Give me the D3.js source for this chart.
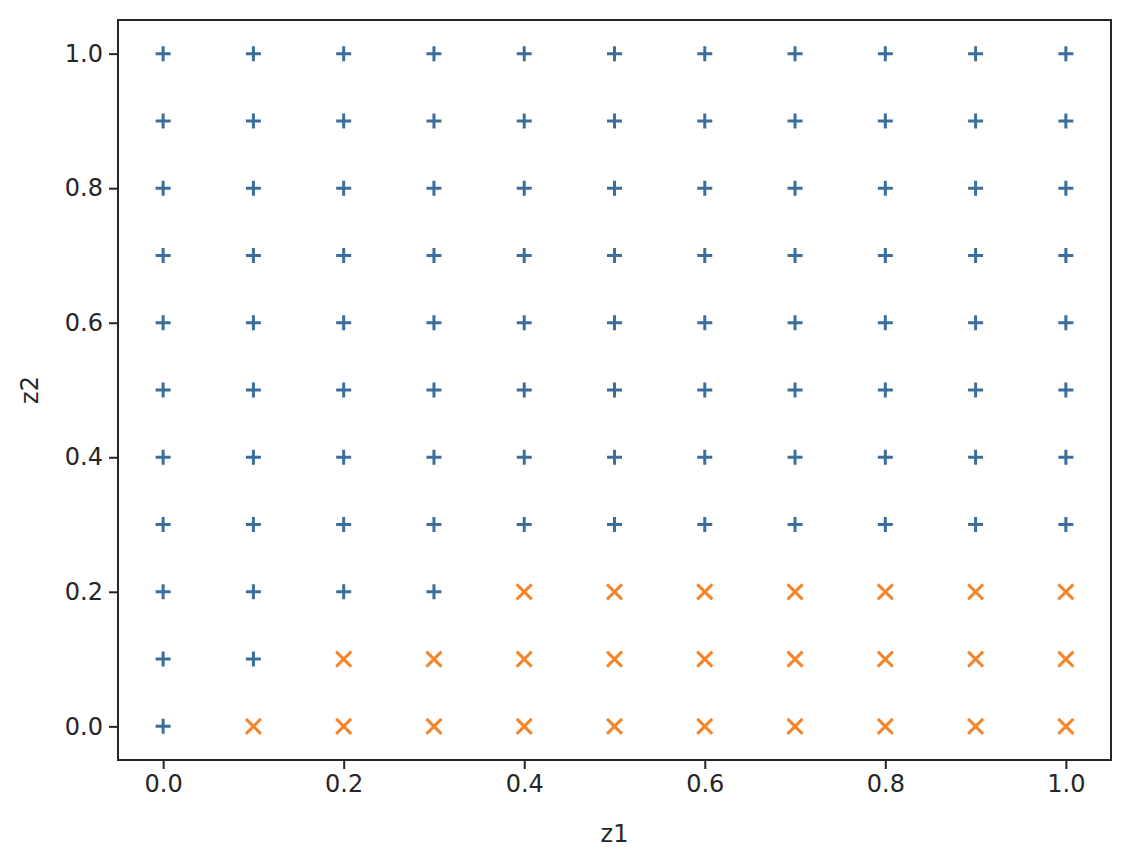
<!DOCTYPE html>
<html>
<head>
<meta charset="utf-8">
<script src="https://cdn.jsdelivr.net/npm/d3@7"></script>
<style>
  body { margin: 0; background: #fff; }
  text { font-family: "DejaVu Sans", sans-serif; fill: #262626; }
</style>
</head>
<body>
<script>
// grid values along each axis
var z1Values = [0.0, 0.1, 0.2, 0.3, 0.4, 0.5, 0.6, 0.7, 0.8, 0.9, 1.0];
var z2Values = [0.0, 0.1, 0.2, 0.3, 0.4, 0.5, 0.6, 0.7, 0.8, 0.9, 1.0];

// class of each grid point, one row per z2 value (bottom row first)
var classRows = [
  "+xxxxxxxxxx",
  "++xxxxxxxxx",
  "++++xxxxxxx",
  "+++++++++++",
  "+++++++++++",
  "+++++++++++",
  "+++++++++++",
  "+++++++++++",
  "+++++++++++",
  "+++++++++++",
  "+++++++++++"
];

var xTicks = [0.0, 0.2, 0.4, 0.6, 0.8, 1.0];
var yTicks = [0.0, 0.2, 0.4, 0.6, 0.8, 1.0];

var points = [];
z2Values.forEach(function(z2, i) {
  z1Values.forEach(function(z1, j) {
    points.push({z1: z1, z2: z2, cls: classRows[i][j]});
  });
});

var w = 1142, h = 862;
var margin = {left: 118, right: 31, top: 20, bottom: 102};

var svg = d3.select("body").append("svg")
  .attr("width", w)
  .attr("height", h);

var xScale = d3.scaleLinear()
  .domain([-0.05, 1.05])
  .range([margin.left, w - margin.right]);

var yScale = d3.scaleLinear()
  .domain([-0.05, 1.05])
  .range([h - margin.bottom, margin.top]);

// Axes
var xAxis = d3.axisBottom(xScale)
  .tickValues(xTicks)
  .tickFormat(d3.format(".1f"))
  .tickSize(9)
  .tickPadding(6);

var yAxis = d3.axisLeft(yScale)
  .tickValues(yTicks)
  .tickFormat(d3.format(".1f"))
  .tickSize(9)
  .tickPadding(6);

var gx = svg.append("g")
  .attr("transform", "translate(0," + (h - margin.bottom) + ")")
  .call(xAxis);

var gy = svg.append("g")
  .attr("transform", "translate(" + margin.left + ",0)")
  .call(yAxis);

[gx, gy].forEach(function(g) {
  g.select(".domain").remove();
  g.selectAll(".tick line").attr("stroke", "#262626").attr("stroke-width", 2);
  g.selectAll(".tick text").style("font-size", "24px").attr("fill", "#262626");
});

// frame
svg.append("rect")
  .attr("x", margin.left)
  .attr("y", margin.top)
  .attr("width", w - margin.left - margin.right)
  .attr("height", h - margin.top - margin.bottom)
  .attr("fill", "none")
  .attr("stroke", "#262626")
  .attr("stroke-width", 2);

// markers
var half = 7.5;
var plusPath = "M" + (-half) + ",0H" + half + "M0," + (-half) + "V" + half;
var crossPath = "M" + (-half) + "," + (-half) + "L" + half + "," + half +
                "M" + (-half) + "," + half + "L" + half + "," + (-half);

svg.append("g").selectAll("path")
  .data(points)
  .enter()
  .append("path")
  .attr("transform", function(d) {
    return "translate(" + xScale(d.z1) + "," + yScale(d.z2) + ")";
  })
  .attr("d", function(d) { return d.cls === "+" ? plusPath : crossPath; })
  .attr("fill", "none")
  .attr("stroke", function(d) { return d.cls === "+" ? "#3b6e9c" : "#f5852a"; })
  .attr("stroke-width", 3);

// axis labels
svg.append("text")
  .attr("x", xScale(0.5))
  .attr("y", 842)
  .attr("text-anchor", "middle")
  .style("font-size", "24px")
  .text("z1");

svg.append("text")
  .attr("transform", "translate(38," + yScale(0.5) + ") rotate(-90)")
  .attr("text-anchor", "middle")
  .style("font-size", "24px")
  .text("z2");
</script>
</body>
</html>
